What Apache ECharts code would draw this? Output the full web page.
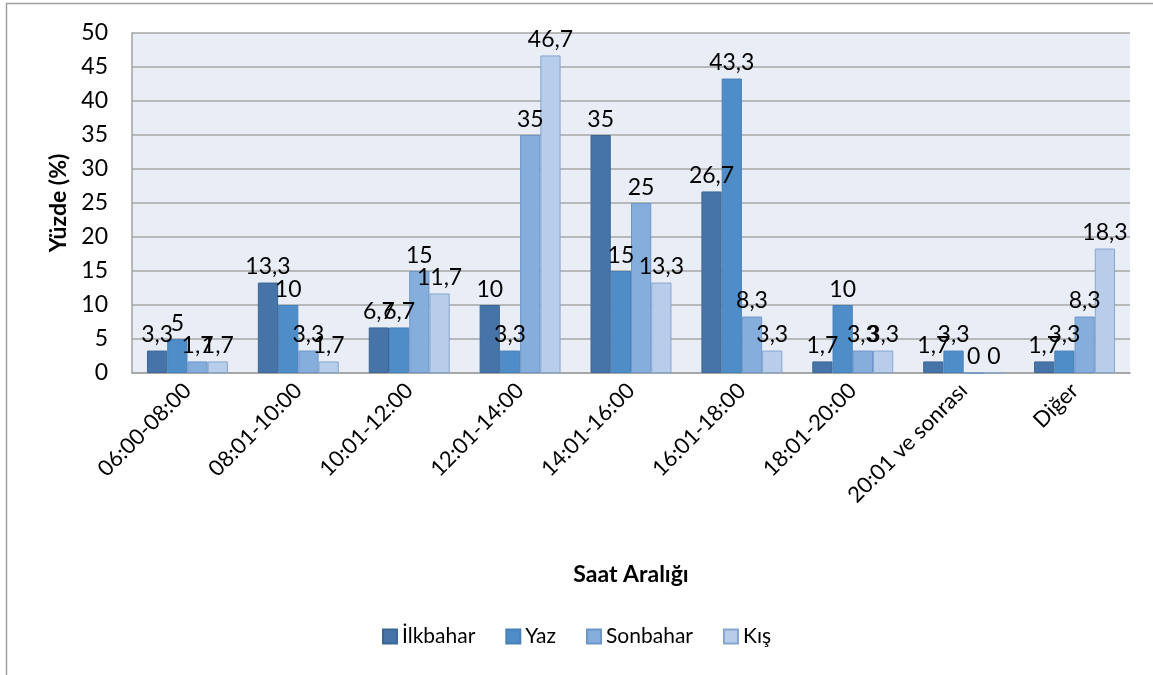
<!DOCTYPE html>
<html><head><meta charset="utf-8">
<script src="https://cdn.jsdelivr.net/npm/echarts@6/dist/echarts.min.js"></script>
<style>html,body{margin:0;padding:0;background:#fff}#c{width:1153px;height:675px}</style>
</head><body><div id="c"></div>
<script>
const categories = ['06:00-08:00','08:01-10:00','10:01-12:00','12:01-14:00','14:01-16:00','16:01-18:00','18:01-20:00','20:01 ve sonrası','Diğer'];
const ilkbahar = [3.3, 13.3, 6.7, 10, 35, 26.7, 1.7, 1.7, 1.7];
const yaz      = [5, 10, 6.7, 3.3, 15, 43.3, 10, 3.3, 3.3];
const sonbahar = [1.7, 3.3, 15, 35, 25, 8.3, 3.3, 0, 8.3];
const kis      = [1.7, 1.7, 11.7, 46.7, 13.3, 3.3, 3.3, 0, 18.3];
const seriesNames = ['İlkbahar','Yaz','Sonbahar','Kış'];
const yTicks = [0,5,10,15,20,25,30,35,40,45,50];

const FONT = 'Lato, "Open Sans", sans-serif';
const fills = ['#4674A8','#4F8DC8','#85AEDD','#B8CDE9'];
const borders = ['#3C6694','#4A80B8','#6C96C8','#86A6CF'];
const datasets = [ilkbahar, yaz, sonbahar, kis];

const chart = echarts.init(document.getElementById('c'), null, {renderer:'canvas'});
chart.setOption({
  animation:false,
  backgroundColor:'#fff',
  graphic:[{type:'rect', shape:{x:6.5,y:3.5,width:1200,height:700}, style:{fill:'none', stroke:'#A0A0A0', lineWidth:1.5}, silent:true, z:-1}],
  legend:{
    data:seriesNames, top:621, left:'center', itemWidth:14, itemHeight:14, itemGap:30,
    icon:'rect',
    textStyle:{fontFamily:FONT, fontSize:21, color:'#000'}
  },
  grid:{left:132, right:23, top:33, bottom:302, show:true, backgroundColor:'#E9EDF6', borderWidth:0},
  xAxis:{
    type:'category', data:categories,
    name:'Saat Aralığı', nameLocation:'middle', nameGap:190,
    nameTextStyle:{fontFamily:FONT, fontSize:23, fontWeight:'bold', color:'#000'},
    axisLine:{lineStyle:{color:'#A0A0A0', width:1.5}},
    axisTick:{show:false},
    axisLabel:{rotate:45, interval:0, margin:14, fontFamily:FONT, fontSize:22, color:'#000'}
  },
  yAxis:{
    type:'value', min:0, max:50, interval:5,
    name:'Yüzde (%)', nameLocation:'middle', nameGap:62,
    nameTextStyle:{fontFamily:FONT, fontSize:23, fontWeight:'bold', color:'#000'},
    axisLine:{show:true, lineStyle:{color:'#A0A0A0', width:1.5}},
    axisTick:{show:false},
    splitLine:{lineStyle:{color:'#A6A6A6', width:1.5}},
    axisLabel:{margin:24, fontFamily:FONT, fontSize:23, color:'#000',
      formatter:v => yTicks.includes(v) ? String(v) : ''}
  },
  series: seriesNames.map((n,i)=>({
    name:n, type:'bar', data:datasets[i],
    barGap:'0%', barCategoryGap:'27%',
    itemStyle:{color:fills[i], borderColor:borders[i], borderWidth:1},
    label:{show:true, position:'top', distance:4, fontFamily:FONT, fontSize:23, color:'#000',
      formatter:p => String(p.value).replace('.', ',')}
  }))
});
</script></body></html>
